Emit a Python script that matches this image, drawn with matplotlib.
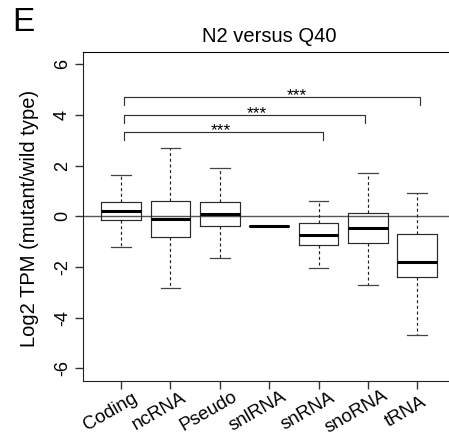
import matplotlib
matplotlib.use('Agg')
import matplotlib.pyplot as plt
from matplotlib.transforms import ScaledTranslation

plt.rcParams['font.family'] = ['Liberation Sans', 'DejaVu Sans']

# box statistics
categories = ['Coding', 'ncRNA', 'Pseudo', 'snlRNA', 'snRNA', 'snoRNA', 'tRNA']
whisker_lo = [-1.22, -2.83, -1.65, -0.37, -2.06, -2.72, -4.69]
q1 = [-0.14, -0.81, -0.37, -0.37, -1.14, -1.05, -2.40]
medians = [0.20, -0.09, 0.07, -0.37, -0.76, -0.48, -1.81]
q3 = [0.57, 0.62, 0.57, -0.37, -0.26, 0.13, -0.69]
whisker_hi = [1.64, 2.70, 1.90, -0.37, 0.59, 1.71, 0.92]

# significance brackets (from Coding to ...)
bracket_ends = [5.1, 5.95, 7.06]
bracket_y = [3.31, 4.0, 4.7]
star_x = [3.03, 3.75, 4.56]
star_labels = ['***', '***', '***']

stats = []
for i, name in enumerate(categories):
    stats.append({'label': name, 'whislo': whisker_lo[i], 'q1': q1[i], 'med': medians[i],
                  'q3': q3[i], 'whishi': whisker_hi[i], 'fliers': []})

fig = plt.figure(figsize=(4.49, 4.44), dpi=100)
ax = fig.add_axes([0.184, 0.142, 0.831, 0.742])

pos = list(range(1, len(categories) + 1))
ax.axhline(0, color='#555555', lw=1.0, zorder=0)
ax.bxp(stats, positions=pos, widths=0.8, showfliers=False, patch_artist=False,
       boxprops=dict(color='#2a2a2a', lw=0.85),
       medianprops=dict(color='black', lw=2.2, solid_capstyle='butt'),
       whiskerprops=dict(color='#222222', lw=0.85, linestyle=(0, (2.6, 2.2))),
       capprops=dict(color='#444444', lw=0.9),
       capwidths=0.4)

for x_end, y, sx, lab in zip(bracket_ends, bracket_y, star_x, star_labels):
    ax.plot([1.05, 1.05, x_end, x_end], [y - 0.32, y, y, y - 0.32], color='#333333', lw=0.85)
    ax.text(sx, y - 0.12, lab, ha='center', va='baseline', fontsize=12.5)

ax.set_xlim(0.22, 7.78)
ax.set_ylim(-6.5, 6.5)
ax.set_yticks([-6, -4, -2, 0, 2, 4, 6])
ax.set_yticklabels(['-6', '-4', '-2', '0', '2', '4', '6'], rotation=90, va='center', fontsize=13)
ax.set_xticks(pos)
ax.set_xticklabels(categories, rotation=30, ha='center', va='center',
                   rotation_mode='anchor', fontsize=13.5)
ax.tick_params(axis='both', length=6, width=1, color='#333333')
ax.tick_params(axis='y', pad=2.5)
ax.tick_params(axis='x', pad=16)
shift = ScaledTranslation(-0.11, 0, fig.dpi_scale_trans)
for lab in ax.get_xticklabels():
    lab.set_transform(lab.get_transform() + shift)
ax.spines['left'].set_color('#222222')
ax.spines['bottom'].set_color('#222222')
ax.set_ylabel('Log2 TPM (mutant/wild type)', fontsize=14.5)
ax.yaxis.set_label_coords(-0.117, 0.492)
ax.set_title('N2 versus Q40', fontsize=14.5, pad=7)
fig.text(0.027, 0.93, 'E', fontsize=24)

fig.savefig('out.png', dpi=100)
